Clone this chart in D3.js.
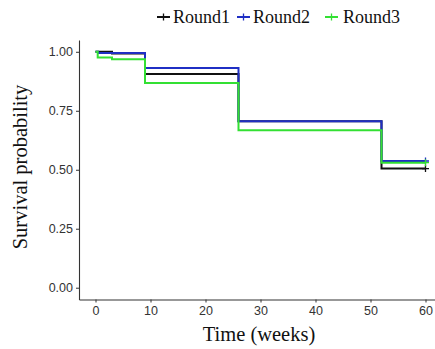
<!DOCTYPE html>
<html>
<head>
<meta charset="utf-8">
<script src="https://cdn.jsdelivr.net/npm/d3@7"></script>
<style>
body { margin: 0; background: #fff; }
</style>
</head>
<body>
<div id="chart"></div>
<script>
// survival curves
var names = ["Round1", "Round2", "Round3"];
var colors = ["#111111", "#1f2fc4", "#33e033"];

var times1 = [0, 3, 9, 26, 52, 60];
var surv1 = [1, 0.993, 0.906, 0.706, 0.505, 0.505];
var times2 = [0, 0.5, 9, 26, 52, 60];
var surv2 = [1, 0.995, 0.931, 0.706, 0.537, 0.537];
var times3 = [0, 0.4, 3, 9, 26, 52, 60];
var surv3 = [1, 0.976, 0.968, 0.868, 0.667, 0.530, 0.530];

var xTicks = [0, 10, 20, 30, 40, 50, 60];
var yTicks = [0, 0.25, 0.5, 0.75, 1];

var w = 435, h = 349;
var margin = {top: 40, right: 0, bottom: 49, left: 79};

var svg = d3.select("#chart").append("svg")
    .attr("width", w)
    .attr("height", h);

var x = d3.scaleLinear().domain([-3, 63]).range([margin.left, margin.left + 363]);
var y = d3.scaleLinear().domain([-0.05, 1.05]).range([h - margin.bottom - 0.5, margin.top]);

var series = [
    {name: names[0], times: times1, surv: surv1, color: colors[0]},
    {name: names[1], times: times2, surv: surv2, color: colors[1]},
    {name: names[2], times: times3, surv: surv3, color: colors[2]}
];

var line = d3.line()
    .x(function(d) { return x(d[0]); })
    .y(function(d) { return y(d[1]); })
    .curve(d3.curveStepAfter);

// axes
var xAxis = svg.append("g")
    .attr("transform", "translate(0," + y(-0.05) + ")")
    .call(d3.axisBottom(x).tickValues(xTicks).tickSize(3).tickPadding(4).tickSizeOuter(0));
var yAxis = svg.append("g")
    .attr("transform", "translate(" + x(-3) + ",0)")
    .call(d3.axisLeft(y).tickValues(yTicks).tickFormat(d3.format(".2f")).tickSize(3).tickPadding(3).tickSizeOuter(0));

[xAxis, yAxis].forEach(function(a) {
    a.select(".domain").attr("stroke", "#333").attr("stroke-width", 1.1);
    a.selectAll(".tick line").attr("stroke", "#333");
    a.selectAll(".tick text")
        .attr("fill", "#333")
        .style("font-family", "Liberation Sans, Arial, sans-serif")
        .style("font-size", "12.5px");
});

// curves
series.forEach(function(s) {
    var pts = s.times.map(function(t, i) { return [t, s.surv[i]]; });
    svg.append("path")
        .datum(pts)
        .attr("fill", "none")
        .attr("stroke", s.color)
        .attr("stroke-width", 2)
        .attr("d", line);
    // censor mark at the end
    var last = pts[pts.length - 1];
    var cx = x(last[0]), cy = y(last[1]);
    svg.append("path")
        .attr("d", "M" + (cx - 3.5) + "," + cy + "h7M" + cx + "," + (cy - 3.5) + "v7")
        .attr("stroke", s.color)
        .attr("stroke-width", 1.3);
});

// axis titles
svg.append("text")
    .attr("x", 259)
    .attr("y", 341)
    .attr("text-anchor", "middle")
    .style("font-family", "Liberation Serif, Times New Roman, serif")
    .style("font-size", "20.5px")
    .attr("fill", "#111")
    .text("Time (weeks)");

svg.append("text")
    .attr("transform", "translate(27,167) rotate(-90)")
    .attr("text-anchor", "middle")
    .style("font-family", "Liberation Serif, Times New Roman, serif")
    .style("font-size", "20.5px")
    .attr("fill", "#111")
    .text("Survival probability");

// legend
var legendX = [157, 237, 325];
var legend = svg.append("g");
series.forEach(function(s, i) {
    var g = legend.append("g").attr("transform", "translate(" + legendX[i] + ",17)");
    g.append("line").attr("x1", 0).attr("x2", 13).attr("stroke", s.color).attr("stroke-width", 2);
    g.append("line").attr("x1", 6.5).attr("x2", 6.5).attr("y1", -3.5).attr("y2", 3.5).attr("stroke", s.color).attr("stroke-width", 1.3);
    g.append("text")
        .attr("x", i == 2 ? 18 : 16)
        .attr("y", 6)
        .style("font-family", "Liberation Serif, Times New Roman, serif")
        .style("font-size", "18px")
        .attr("fill", "#111")
        .text(s.name);
});
</script>
</body>
</html>
